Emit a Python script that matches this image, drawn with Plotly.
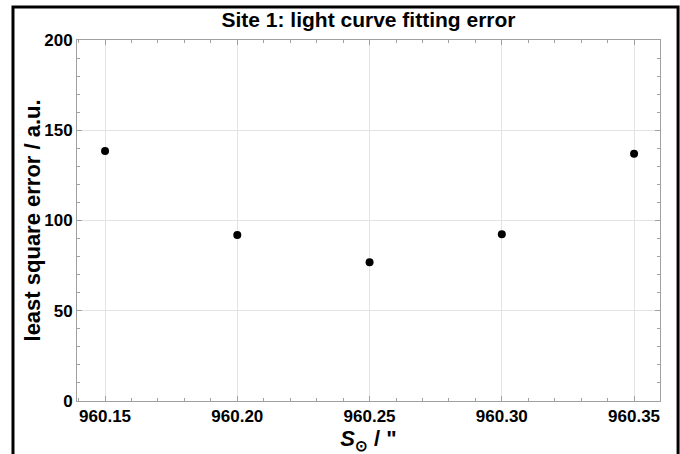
import plotly.graph_objects as go

x_vals = [960.15, 960.20, 960.25, 960.30, 960.35]
y_vals = [138.5, 92.0, 76.9, 92.4, 137.0]
x_ticks = [960.15, 960.20, 960.25, 960.30, 960.35]
x_ticklabels = ["960.15", "960.20", "960.25", "960.30", "960.35"]
y_ticks = [0, 50, 100, 150, 200]

FONT = "Liberation Sans, Arial, sans-serif"

fig = go.Figure()
fig.add_trace(go.Scatter(
    x=x_vals, y=y_vals, mode="markers",
    marker=dict(color="black", size=8),
    showlegend=False,
))

axis_common = dict(
    showline=True, linecolor="#a0a0a0", linewidth=1, mirror="ticks",
    ticks="inside", ticklen=5, tickcolor="#a0a0a0",
    showgrid=True, gridcolor="#e3e3e3", gridwidth=1,
    zeroline=False,
    tickfont=dict(family=FONT, size=17, color="black", weight="bold"),
)

fig.update_xaxes(
    range=[960.1394, 960.3598],
    tickvals=x_ticks, ticktext=x_ticklabels,
    ticklabelstandoff=0,
    minor=dict(ticks="inside", ticklen=3, dtick=0.01, tick0=960.15, tickcolor="#a0a0a0", showgrid=False),
    title=dict(text="<i>S</i><sub>⊙</sub> / \"", font=dict(family=FONT, size=22, color="black", weight="bold"), standoff=1),
    **axis_common,
)
fig.update_yaxes(
    range=[0, 200],
    tickvals=y_ticks,
    minor=dict(ticks="inside", ticklen=3, dtick=10, tickcolor="#a0a0a0", showgrid=False),
    **axis_common,
)

fig.update_layout(
    width=680, height=454,
    margin=dict(l=77, r=20, t=40, b=53),
    paper_bgcolor="white", plot_bgcolor="white",
    title=dict(text="Site 1: light curve fitting error", x=0.5, xanchor="center",
               xref="paper", y=0.957, yanchor="middle",
               font=dict(family=FONT, size=21, color="black", weight="bold")),
    annotations=[dict(text="least square error / a.u.", textangle=-90,
                      xref="paper", yref="paper", x=-0.0755, y=0.5,
                      xanchor="center", yanchor="middle", showarrow=False,
                      font=dict(family=FONT, size=22, color="black", weight="bold"))],
    shapes=[dict(type="rect", xref="paper", yref="paper",
                 x0=-0.1098, x1=1.031, y0=-0.16, y1=1.0914,
                 line=dict(color="black", width=3), fillcolor="rgba(0,0,0,0)", layer="above")],
)

fig.write_html("out.html")
